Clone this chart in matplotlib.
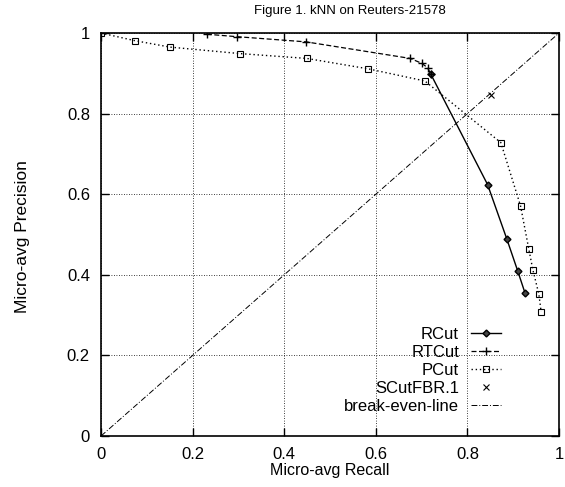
import matplotlib
matplotlib.use('Agg')
from matplotlib import pyplot as plt

plt.rcParams['font.family'] = ['Liberation Sans', 'DejaVu Sans']

# RCut
rcut_recall = [0.72, 0.844, 0.886, 0.910, 0.926]
rcut_prec = [0.898, 0.624, 0.489, 0.409, 0.354]

# RTCut
rtcut_recall = [0.231, 0.296, 0.448, 0.675, 0.70, 0.713, 0.72]
rtcut_prec = [0.997, 0.991, 0.978, 0.937, 0.925, 0.914, 0.898]

# PCut
pcut_recall = [0.0, 0.074, 0.151, 0.303, 0.449, 0.584, 0.707, 0.873,
               0.916, 0.934, 0.943, 0.956, 0.961]
pcut_prec = [1.0, 0.981, 0.965, 0.949, 0.937, 0.911, 0.881, 0.728,
             0.571, 0.464, 0.412, 0.352, 0.308]

# SCutFBR.1
scut_recall = [0.852]
scut_prec = [0.846]

# break-even line
be = [0, 1]

ticks = [0, 0.2, 0.4, 0.6, 0.8, 1]
tick_labels = ['0', '0.2', '0.4', '0.6', '0.8', '1']

fig = plt.figure(figsize=(5.65, 4.87), dpi=100)
ax = fig.add_axes([0.1788, 0.1047, 0.8106, 0.8275])

ax.plot(rcut_recall, rcut_prec, '-', color='black', lw=1.0, marker='D',
        markersize=3.5, markerfacecolor='#444444', label='RCut')
ax.plot(rtcut_recall, rtcut_prec, linestyle=(0, (4, 2)), color='black', lw=0.9,
        marker='+', markersize=6, label='RTCut')
ax.plot(pcut_recall, pcut_prec, linestyle=(0, (1, 2)), color='black', lw=1.0,
        marker='s', markersize=5, markerfacecolor='none', markeredgewidth=0.8,
        label='PCut')
ax.plot(scut_recall, scut_prec, linestyle='none', color='black', marker='x',
        markersize=5, markeredgewidth=0.8, label='SCutFBR.1')
ax.plot(be, be, linestyle=(0, (6, 2, 1, 2)), color='black', lw=0.7,
        label='break-even-line')

ax.set_xlim(0, 1)
ax.set_ylim(0, 1)
ax.set_xticks(ticks)
ax.set_yticks(ticks)
ax.set_xticklabels(tick_labels)
ax.set_yticklabels(tick_labels)
ax.tick_params(direction='in', top=True, right=True, length=6, width=1,
               labelsize=12)
ax.tick_params(axis='x', pad=8)
ax.tick_params(axis='y', pad=8)
ax.grid(True, linestyle=(0, (1, 2)), color='black', lw=0.6)
for s in ax.spines.values():
    s.set_linewidth(1.2)

fig.text(0.62, 0.977, 'Figure 1. kNN on Reuters-21578', fontsize=9.5,
         ha='center', va='center')
ax.set_xlabel('Micro-avg Recall', fontsize=11.5)
ax.xaxis.set_label_coords(0.5, -0.067)
ax.set_ylabel('Micro-avg Precision', fontsize=12.5)
ax.yaxis.set_label_coords(-0.155, 0.496)

leg = ax.legend(loc='lower right', bbox_to_anchor=(0.891, 0.035), frameon=False,
                markerfirst=False, fontsize=12, handlelength=1.8,
                handletextpad=0.7, labelspacing=0.18, borderpad=0)
for col in leg._legend_handle_box.get_children():
    col.align = 'right'

fig.savefig('out.png', dpi=100)
